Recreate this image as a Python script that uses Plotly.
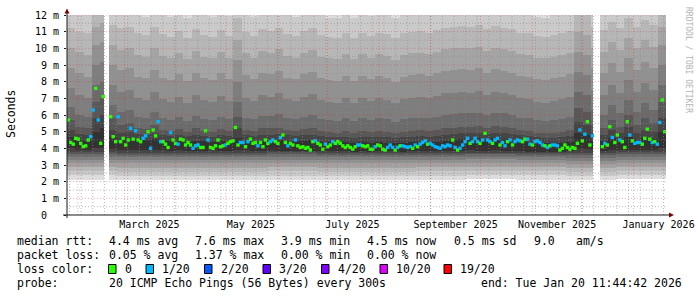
import plotly.graph_objects as go
from datetime import datetime, timedelta

# ------------------------------------------------------------------ data
END_TIME = datetime(2026, 1, 20, 11, 44, 42)
SPAN_DAYS = 360
MEDIAN_STEP_HOURS = 36          # one median sample every 36 h
SMOKE_COL_DAYS = 5              # smoke columns (ping ranks 10..19) every 5 days
SMOKE_BLOCK_DAYS = 30           # slowly varying ranks read per 30 days
Y_MAX = 12.0                    # ms

# median rtt (ms), one value per 36 h step; None = no data
median_ms = [
    5.7, 4.35, 4.25, 4.6, 4.55, 4.3, 4.1, 4.15, 4.5, 4.7,
    6.3, 7.6, 5.7, 4.3, 7.1, None, None, 5.9, 4.7, 4.4,
    5.9, 4.4, 4.6, 4.2, 4.5, 5.2, 4.55, 5.05, 4.5, 4.4,
    4.6, 4.75, 5.0, 4.0, 5.1, 4.75, 5.6, 4.4, 4.4, 4.25,
    4.05, 4.95, 4.5, 4.3, 4.25, 4.55, 4.5, 4.2, 4.35, 4.2,
    4.0, 4.15, 4.2, 4.05, 4.05, 5.05, 4.5, 4.05, 4.0, 4.15,
    4.5, 4.1, 4.15, 4.2, 4.3, 4.4, 4.45, 5.25, 4.2, 4.35,
    4.35, 4.1, 4.4, 4.55, 4.3, 4.35, 4.15, 4.35, 4.1, 4.5,
    4.3, 4.4, 4.5, 4.4, 4.3, 4.65, 4.8, 4.35, 4.15, 4.3,
    4.2, 4.5, 4.15, 4.05, 4.1, 4.0, 4.05, 3.9, 4.4, 4.45,
    4.3, 4.2, 3.95, 4.25, 4.1, 4.2, 4.4, 4.3, 4.4, 4.3,
    4.15, 4.05, 4.15, 4.05, 3.95, 4.1, 4.2, 4.2, 4.15, 4.1,
    4.15, 3.95, 3.95, 4.1, 4.2, 4.15, 3.95, 3.9, 4.05, 4.2,
    4.05, 3.9, 4.05, 4.15, 4.15, 4.1, 4.05, 4.1, 4.0, 4.2,
    4.1, 4.25, 4.35, 4.45, 4.25, 4.3, 4.2, 4.1, 4.05, 4.0,
    4.15, 4.1, 4.2, 4.15, 4.5, 4.05, 3.9, 4.0, 4.2, 4.4,
    4.6, 4.3, 4.4, 4.6, 4.4, 4.3, 4.5, 4.9, 4.5, 4.4,
    4.3, 4.5, 4.6, 4.2, 4.35, 4.15, 4.4, 4.5, 4.2, 4.4,
    4.5, 4.45, 4.4, 4.55, 4.55, 4.25, 4.2, 4.4, 4.45, 4.35,
    4.2, 4.15, 4.05, 4.15, 4.2, 4.2, 4.15, 3.9, 4.0, 4.2,
    4.05, 3.95, 4.05, 4.0, 4.3, 5.1, 4.45, 4.85, 5.6, 4.2,
    4.75, None, None, None, 4.1, 4.3, 4.2, 5.3, 4.65, 4.35,
    4.8, 4.5, 4.4, 4.05, 5.6, 4.8, 4.45, 4.3, 4.35, 4.35,
    4.25, 4.6, 5.15, 4.55, 4.35, 4.4, 4.25, 5.55, 6.9, 5.0,
]

# lost pings (out of 20) for each median sample
loss_pings = [
    0, 0, 0, 0, 0, 0, 0, 0, 0, 1,
    1, 0, 1, 0, 0, 0, 0, 0, 0, 0,
    1, 0, 0, 0, 0, 1, 0, 1, 0, 0,
    1, 1, 0, 1, 0, 0, 1, 1, 0, 0,
    0, 1, 0, 0, 1, 0, 0, 0, 0, 0,
    1, 1, 1, 0, 0, 0, 1, 0, 0, 0,
    0, 0, 0, 1, 0, 0, 0, 0, 0, 1,
    1, 0, 1, 0, 0, 0, 1, 0, 0, 0,
    0, 1, 1, 0, 0, 1, 0, 0, 1, 0,
    0, 1, 0, 0, 0, 0, 0, 0, 0, 1,
    0, 0, 0, 1, 0, 0, 1, 0, 0, 0,
    0, 0, 0, 0, 0, 0, 1, 1, 0, 0,
    0, 0, 0, 1, 0, 0, 0, 0, 1, 1,
    1, 0, 1, 0, 1, 1, 1, 1, 0, 1,
    0, 1, 1, 1, 0, 1, 1, 1, 1, 1,
    1, 1, 1, 1, 0, 1, 0, 1, 1, 1,
    1, 0, 1, 1, 1, 0, 1, 0, 1, 1,
    0, 1, 1, 0, 1, 1, 0, 1, 0, 1,
    1, 1, 0, 0, 1, 1, 0, 1, 1, 1,
    1, 0, 1, 0, 1, 1, 1, 0, 0, 0,
    0, 0, 0, 0, 0, 1, 0, 1, 0, 0,
    1, 0, 0, 0, 0, 1, 0, 0, 1, 0,
    0, 1, 0, 0, 0, 1, 0, 1, 1, 1,
    0, 0, 0, 0, 1, 0, 1, 1, 0, 0,
]

# sorted ping ranks (ms).  Ranks 1-9 and 20 per 30-day block, ranks 10-19 per 5-day column
p1 = [2.12, 2.12, 2.12, 2.12, 2.12, 2.12, 2.12, 2.12, 2.14, 2.12, 2.08, 2.14]
p2 = [2.38, 2.36, 2.36, 2.35, 2.36, 2.35, 2.35, 2.36, 2.40, 2.38, 2.32, 2.38]
p3 = [2.62, 2.60, 2.60, 2.60, 2.62, 2.60, 2.60, 2.62, 2.65, 2.62, 2.58, 2.62]
p4 = [2.88, 2.85, 2.85, 2.85, 2.88, 2.85, 2.85, 2.86, 2.90, 2.88, 2.82, 2.88]
p5 = [3.12, 3.10, 3.10, 3.10, 3.12, 3.10, 3.10, 3.10, 3.14, 3.12, 3.06, 3.12]
p6 = [3.32, 3.30, 3.30, 3.30, 3.32, 3.30, 3.30, 3.30, 3.34, 3.30, 3.26, 3.32]
p7 = [3.50, 3.48, 3.48, 3.48, 3.50, 3.48, 3.48, 3.47, 3.50, 3.46, 3.44, 3.50]
p8 = [3.64, 3.62, 3.62, 3.62, 3.64, 3.62, 3.62, 3.61, 3.64, 3.60, 3.58, 3.64]
p9 = [3.76, 3.74, 3.74, 3.74, 3.76, 3.74, 3.74, 3.73, 3.75, 3.70, 3.70, 3.76]
p10 = [
    4.00, 3.90, 3.88, 4.05, 4.05, 3.95, 3.90, 3.92, 3.90, 3.88, 3.90, 3.88,
    3.85, 3.88, 3.85, 3.87, 3.85, 3.88, 3.86, 3.85, 3.90, 3.88, 3.85, 3.86,
    3.88, 3.85, 3.83, 3.86, 3.85, 3.84, 3.86, 3.83, 3.82, 3.84, 3.80, 3.82,
    3.80, 3.82, 3.84, 3.82, 3.80, 3.82, 3.84, 3.85, 3.82, 3.83, 3.86, 3.85,
    3.88, 3.87, 3.85, 3.88, 3.86, 3.84, 3.82, 3.80, 3.78, 3.76, 3.78, 3.80,
    3.82, 3.95, 3.95, 3.90, 3.85, 3.90, 3.88, 3.92, 3.88, 3.90, 3.90, 4.00,
]
p11 = [
    4.70, 4.50, 4.45, 5.00, 5.20, 4.70, 4.55, 4.60, 4.55, 4.50, 4.55, 4.50,
    4.45, 4.45, 4.40, 4.45, 4.42, 4.40, 4.45, 4.40, 4.60, 4.45, 4.42, 4.45,
    4.48, 4.50, 4.45, 4.42, 4.45, 4.48, 4.40, 4.38, 4.35, 4.38, 4.35, 4.38,
    4.35, 4.38, 4.35, 4.32, 4.35, 4.38, 4.40, 4.38, 4.40, 4.45, 4.50, 4.55,
    4.55, 4.60, 4.55, 4.60, 4.55, 4.50, 4.45, 4.40, 4.35, 4.30, 4.32, 4.35,
    4.40, 4.90, 4.80, 4.50, 4.45, 4.60, 4.50, 4.70, 4.50, 4.60, 4.55, 5.00,
]
p12 = [
    5.10, 4.85, 4.80, 5.80, 6.00, 5.10, 4.90, 5.00, 4.85, 4.80, 4.95, 4.80,
    4.75, 4.78, 4.72, 4.80, 4.74, 4.70, 4.78, 4.72, 5.20, 4.78, 4.75, 4.80,
    4.82, 4.85, 4.78, 4.75, 4.80, 4.82, 4.72, 4.70, 4.66, 4.70, 4.65, 4.70,
    4.66, 4.70, 4.68, 4.62, 4.66, 4.70, 4.72, 4.70, 4.74, 4.80, 4.85, 4.90,
    4.90, 4.95, 4.88, 4.95, 4.90, 4.85, 4.78, 4.72, 4.66, 4.60, 4.62, 4.66,
    4.72, 5.60, 5.40, 4.90, 4.80, 5.10, 4.90, 5.30, 4.90, 5.10, 5.00, 5.80,
]
p13 = [
    5.70, 5.30, 5.20, 6.80, 7.00, 5.80, 5.40, 5.50, 5.20, 5.15, 5.40, 5.10,
    5.05, 5.15, 5.00, 5.20, 5.05, 5.00, 5.15, 5.05, 5.90, 5.10, 5.05, 5.20,
    5.20, 5.25, 5.10, 5.05, 5.15, 5.20, 5.05, 5.00, 4.95, 5.05, 4.95, 5.05,
    4.98, 5.05, 5.00, 4.92, 5.00, 5.05, 5.10, 5.05, 5.10, 5.20, 5.25, 5.30,
    5.30, 5.35, 5.25, 5.35, 5.30, 5.20, 5.10, 5.05, 4.95, 4.90, 4.95, 5.00,
    5.10, 6.40, 6.20, 5.40, 5.20, 5.70, 5.30, 6.00, 5.40, 5.80, 5.50, 6.80,
]
p14 = [
    6.50, 6.00, 5.90, 7.80, 8.00, 6.60, 6.20, 6.30, 5.90, 5.85, 6.20, 5.80,
    5.70, 5.90, 5.65, 5.95, 5.75, 5.70, 5.90, 5.75, 6.80, 5.85, 5.75, 5.95,
    5.95, 6.05, 5.80, 5.75, 5.90, 6.00, 5.75, 5.70, 5.65, 5.80, 5.65, 5.80,
    5.70, 5.80, 5.75, 5.60, 5.75, 5.80, 5.85, 5.80, 5.90, 6.00, 6.05, 6.10,
    6.10, 6.15, 6.00, 6.15, 6.10, 6.00, 5.85, 5.80, 5.70, 5.65, 5.70, 5.75,
    5.90, 7.40, 7.20, 6.30, 6.00, 6.60, 6.10, 6.90, 6.20, 6.70, 6.30, 7.80,
]
p15 = [
    7.60, 7.20, 7.00, 9.00, 9.20, 7.80, 7.40, 7.50, 7.00, 6.90, 7.40, 6.95,
    6.80, 7.10, 6.75, 7.20, 6.90, 6.80, 7.15, 6.85, 8.00, 7.05, 6.85, 7.20,
    7.10, 7.30, 6.95, 6.85, 7.10, 7.25, 6.90, 6.80, 6.75, 7.00, 6.75, 7.00,
    6.85, 7.00, 6.90, 6.70, 6.95, 7.05, 7.10, 7.00, 7.15, 7.30, 7.35, 7.40,
    7.35, 7.45, 7.20, 7.40, 7.30, 7.20, 7.00, 6.95, 6.80, 6.75, 6.85, 6.95,
    7.10, 8.60, 8.40, 7.50, 7.20, 7.80, 7.30, 8.10, 7.40, 7.90, 7.50, 9.00,
]
p16 = [
    8.80, 8.50, 8.30, 10.2, 10.4, 9.00, 8.70, 8.80, 8.30, 8.20, 8.70, 8.25,
    8.10, 8.45, 8.05, 8.55, 8.20, 8.10, 8.50, 8.15, 9.30, 8.40, 8.15, 8.55,
    8.45, 8.65, 8.25, 8.15, 8.45, 8.60, 8.20, 8.10, 8.05, 8.35, 8.05, 8.35,
    8.15, 8.35, 8.25, 8.00, 8.30, 8.40, 8.45, 8.35, 8.50, 8.65, 8.70, 8.75,
    8.70, 8.80, 8.55, 8.75, 8.65, 8.55, 8.35, 8.30, 8.15, 8.10, 8.20, 8.30,
    8.45, 9.80, 9.60, 8.80, 8.50, 9.10, 8.60, 9.40, 8.70, 9.20, 8.80, 10.2,
]
p17 = [
    10.0, 9.80, 9.60, 11.3, 11.5, 10.2, 9.90, 10.0, 9.60, 9.50, 10.0, 9.55,
    9.40, 9.75, 9.35, 9.85, 9.50, 9.40, 9.80, 9.45, 10.5, 9.70, 9.45, 9.85,
    9.75, 9.95, 9.55, 9.45, 9.75, 9.90, 9.50, 9.40, 9.35, 9.65, 9.35, 9.65,
    9.45, 9.65, 9.55, 9.30, 9.60, 9.70, 9.75, 9.65, 9.80, 9.95, 10.0, 10.05,
    10.0, 10.1, 9.85, 10.05, 9.95, 9.85, 9.65, 9.60, 9.45, 9.40, 9.50, 9.60,
    9.75, 11.0, 10.8, 10.0, 9.80, 10.4, 9.90, 10.6, 10.0, 10.5, 10.1, 11.3,
]
p18 = [
    11.2, 11.0, 10.9, 12.3, 12.5, 11.4, 11.2, 11.3, 10.9, 10.8, 11.3, 10.85,
    10.7, 11.05, 10.65, 11.15, 10.8, 10.7, 11.1, 10.75, 11.8, 11.0, 10.75, 11.15,
    11.05, 11.25, 10.85, 10.75, 11.05, 11.2, 10.8, 10.7, 10.65, 10.95, 10.65, 10.95,
    10.75, 10.95, 10.85, 10.6, 10.9, 11.0, 11.05, 10.95, 11.1, 11.25, 11.3, 11.35,
    11.3, 11.4, 11.15, 11.35, 11.25, 11.15, 10.95, 10.9, 10.75, 10.7, 10.8, 10.9,
    11.05, 12.2, 12.0, 11.3, 11.1, 11.6, 11.2, 11.8, 11.3, 11.7, 11.4, 12.4,
]
p19 = [
    12.4, 12.3, 12.2, 13.5, 13.8, 12.6, 12.4, 12.5, 12.1, 11.9, 12.5, 12.0,
    11.9, 12.3, 11.8, 12.4, 12.0, 11.9, 12.3, 11.95, 13.0, 12.2, 11.9, 12.4,
    12.3, 12.5, 12.0, 11.9, 12.3, 12.4, 12.0, 11.85, 11.8, 12.2, 11.8, 12.15,
    11.95, 12.2, 12.05, 11.8, 12.1, 12.2, 12.3, 12.15, 12.35, 12.5, 12.55, 12.6,
    12.5, 12.6, 12.4, 12.6, 12.5, 12.4, 12.15, 12.1, 11.9, 11.85, 12.0, 12.1,
    12.3, 13.4, 13.2, 12.5, 12.3, 12.8, 12.4, 13.0, 12.5, 12.9, 12.6, 13.6,
]
p20 = [16.0, 15.5, 15.0, 15.2, 15.8, 15.4, 15.1, 15.6, 15.3, 15.0, 16.2, 16.5]

# periods without data
gap_start = ["2025-02-16 16:00", "2025-12-07 16:00"]
gap_end = ["2025-02-20 00:00", "2025-12-12 00:00"]

y_tick_vals = [0, 1, 2, 3, 4, 5, 6, 7, 8, 9, 10, 11, 12]
y_tick_text = ["0\u00a0\u00a0", "1 m", "2 m", "3 m", "4 m", "5 m", "6 m", "7 m",
               "8 m", "9 m", "10 m", "11 m", "12 m"]
month_label_dates = ["2025-03-16", "2025-05-16", "2025-07-16", "2025-09-16",
                     "2025-11-16", "2026-01-16"]
month_labels = ["March 2025", "May 2025", "July 2025", "September 2025",
                "November 2025", "January 2026"]

loss_levels = ["0", "1/20", "2/20", "3/20", "4/20", "10/20", "19/20"]
loss_level_pings = [0, 1, 2, 3, 4, 10, 19]
loss_colors = ["#26ff00", "#00b8ff", "#0059ff", "#5e00ff", "#7e00ff", "#dd00ff", "#ff0000"]
smoke_grays = [221, 202, 183, 164, 145, 126, 107, 88, 69, 50]

rtt_stats = ["4.4 ms avg", "7.6 ms max", "3.9 ms min", "4.5 ms now", "0.5 ms sd", "9.0", "am/s"]
loss_stats = ["0.05 % avg", "1.37 % max", "0.00 % min", "0.00 % now"]
probe_text = "20 ICMP Echo Pings (56 Bytes) every 300s"
end_text = "end: Tue Jan 20 11:44:42 2026"

# ------------------------------------------------------------------ layout constants
W, H = 697, 297
ML, MR, MT, MB = 67, 31, 15, 82
PW, PH = W - ML - MR, H - MT - MB
MONO = "DejaVu Sans Mono"


def px2x(px):
    return (px - ML) / PW


def py2y(py):
    return (MT + PH - py) / PH


START_TIME = END_TIME - timedelta(days=SPAN_DAYS)

# ------------------------------------------------------------------ figure
fig = go.Figure()

n_cols = len(p10)
per_block = SMOKE_BLOCK_DAYS // SMOKE_COL_DAYS


def expand(block_vals):
    return [block_vals[j // per_block] for j in range(n_cols)]


ranks = [expand(p) for p in (p1, p2, p3, p4, p5, p6, p7, p8, p9)] + \
        [p10, p11, p12, p13, p14, p15, p16, p17, p18, p19] + [expand(p20)]

col_t = [START_TIME + timedelta(days=SMOKE_COL_DAYS * (j + 0.5)) for j in range(n_cols)]
col_w = SMOKE_COL_DAYS * 86400000

for k, g in enumerate(smoke_grays):
    lo = ranks[k]
    hi = ranks[19 - k]
    fig.add_trace(go.Bar(
        x=col_t, base=lo, y=[h - l for h, l in zip(hi, lo)], width=col_w,
        marker=dict(color=f"rgb({g},{g},{g})", line=dict(width=0)),
        hoverinfo="skip", showlegend=False))

# missing data
gs = [datetime.fromisoformat(s) for s in gap_start]
ge = [datetime.fromisoformat(s) for s in gap_end]
fig.add_trace(go.Bar(
    x=[a + (b - a) / 2 for a, b in zip(gs, ge)],
    width=[(b - a).total_seconds() * 1000 for a, b in zip(gs, ge)],
    base=[0] * len(gs), y=[Y_MAX] * len(gs),
    marker=dict(color="white", line=dict(width=0)), hoverinfo="skip", showlegend=False))

# median markers coloured by loss
med_t = [START_TIME + timedelta(hours=MEDIAN_STEP_HOURS * (i + 0.5)) for i in range(len(median_ms))]
lc = {p: c for p, c in zip(loss_level_pings, loss_colors)}
fig.add_trace(go.Scatter(
    x=med_t, y=median_ms, mode="markers",
    marker=dict(symbol="square", size=3.4, color=[lc[l] for l in loss_pings], line=dict(width=0)),
    hoverinfo="skip", showlegend=False))

shapes = []
MINOR = "rgba(140,140,140,0.6)"
MAJOR = "rgba(225,30,30,0.35)"
DOT = "1px,2px"
# horizontal grid
v = 0.5
while v <= Y_MAX + 1e-9:
    major = abs(v - round(v)) < 1e-9
    shapes.append(dict(type="line", xref="paper", yref="y", x0=0, x1=1, y0=v, y1=v,
                       line=dict(color=MAJOR if major else MINOR, width=1, dash=DOT), layer="above"))
    v += 0.5
# weekly grid (Mondays)
d = datetime(START_TIME.year, START_TIME.month, START_TIME.day)
while d.weekday() != 0:
    d += timedelta(days=1)
while d < END_TIME:
    shapes.append(dict(type="line", xref="x", yref="paper", x0=d, x1=d, y0=0, y1=1,
                       line=dict(color=MINOR, width=1, dash=DOT), layer="above"))
    d += timedelta(days=7)
# monthly grid
y_, m_ = START_TIME.year, START_TIME.month + 1
while True:
    if m_ > 12:
        y_, m_ = y_ + 1, 1
    d = datetime(y_, m_, 1)
    if d >= END_TIME:
        break
    shapes.append(dict(type="line", xref="x", yref="paper", x0=d, x1=d, y0=0, y1=1,
                       line=dict(color=MAJOR, width=1, dash=DOT), layer="above"))
    m_ += 1

AX = "#1a1a1a"
ARROW = "#7f0000"
# axes lines + arrows
shapes.append(dict(type="line", xref="paper", yref="paper", x0=px2x(63), x1=px2x(670),
                   y0=0, y1=0, line=dict(color=AX, width=1), layer="above"))
shapes.append(dict(type="line", xref="paper", yref="paper", x0=0, x1=0,
                   y0=py2y(218), y1=py2y(11), line=dict(color=AX, width=1), layer="above"))
shapes.append(dict(type="path", xref="paper", yref="paper",
                   path=f"M {px2x(64.5)},{py2y(13.5)} L {px2x(69.5)},{py2y(13.5)} L {px2x(67)},{py2y(8.5)} Z",
                   fillcolor=ARROW, line=dict(width=0), layer="above"))
shapes.append(dict(type="path", xref="paper", yref="paper",
                   path=f"M {px2x(669)},{py2y(212.5)} L {px2x(669)},{py2y(217.5)} L {px2x(674)},{py2y(215)} Z",
                   fillcolor=ARROW, line=dict(width=0), layer="above"))

annotations = []
LF = dict(family=MONO, size=11.5, color="#000")


def txt(px, py, s, font=LF, xanchor="left"):
    annotations.append(dict(text=s, x=px2x(px), y=py2y(py), xref="paper", yref="paper",
                            xanchor=xanchor, yanchor="middle", showarrow=False, font=font,
                            borderpad=0))


ROW = [241, 255, 269, 283]
txt(16, ROW[0], "median rtt:")
for px, s in zip([108, 194, 280, 366, 453, 532.5, 574.5], rtt_stats):
    txt(px, ROW[0], s)
txt(16, ROW[1], "packet loss:")
for px, s in zip([108, 194, 280, 366], loss_stats):
    txt(px, ROW[1], s)
txt(16, ROW[2], "loss color:")
box_x = [108.5, 146, 204.5, 263, 321.5, 380, 444]
for bx, lab, col in zip(box_x, loss_levels, loss_colors):
    shapes.append(dict(type="rect", xref="paper", yref="paper",
                       x0=px2x(bx), x1=px2x(bx + 7.5), y0=py2y(ROW[2] + 4.5), y1=py2y(ROW[2] - 4.5),
                       fillcolor=col, line=dict(color="#000", width=1), layer="above"))
    txt(bx + 15, ROW[2], lab)
txt(16, ROW[3], "probe:")
txt(108, ROW[3], probe_text)
txt(683, ROW[3], end_text, xanchor="right")

# y title and watermark
annotations.append(dict(text="Seconds", x=px2x(11), y=py2y(114), xref="paper", yref="paper",
                        xanchor="center", yanchor="middle", textangle=-90, showarrow=False,
                        font=dict(family=MONO, size=11.5, color="#000")))
annotations.append(dict(text="RRDTOOL / TOBI OETIKER", x=px2x(688), y=py2y(60), xref="paper",
                        yref="paper", xanchor="center", yanchor="middle", textangle=90,
                        showarrow=False, font=dict(family=MONO, size=8, color="#b4b4b4")))

fig.update_layout(
    width=W, height=H, margin=dict(l=ML, r=MR, t=MT, b=MB, pad=0, autoexpand=False),
    paper_bgcolor="white", plot_bgcolor="white",
    barmode="overlay", bargap=0, showlegend=False,
    shapes=shapes, annotations=annotations,
    xaxis=dict(type="date", range=[START_TIME, END_TIME], showgrid=False, zeroline=False,
               showline=False, tickvals=month_label_dates, ticktext=month_labels,
               ticks="", tickfont=dict(family=MONO, size=10, color="#000"),
               ticklabelstandoff=2, fixedrange=True, automargin=False),
    yaxis=dict(range=[0, Y_MAX], showgrid=False, zeroline=False, showline=False,
               tickvals=y_tick_vals, ticktext=y_tick_text, ticks="outside", ticklen=2,
               tickcolor=AX, tickfont=dict(family=MONO, size=10, color="#000"),
               ticklabelstandoff=3, fixedrange=True, automargin=False),
)

fig.write_html("out.html")
